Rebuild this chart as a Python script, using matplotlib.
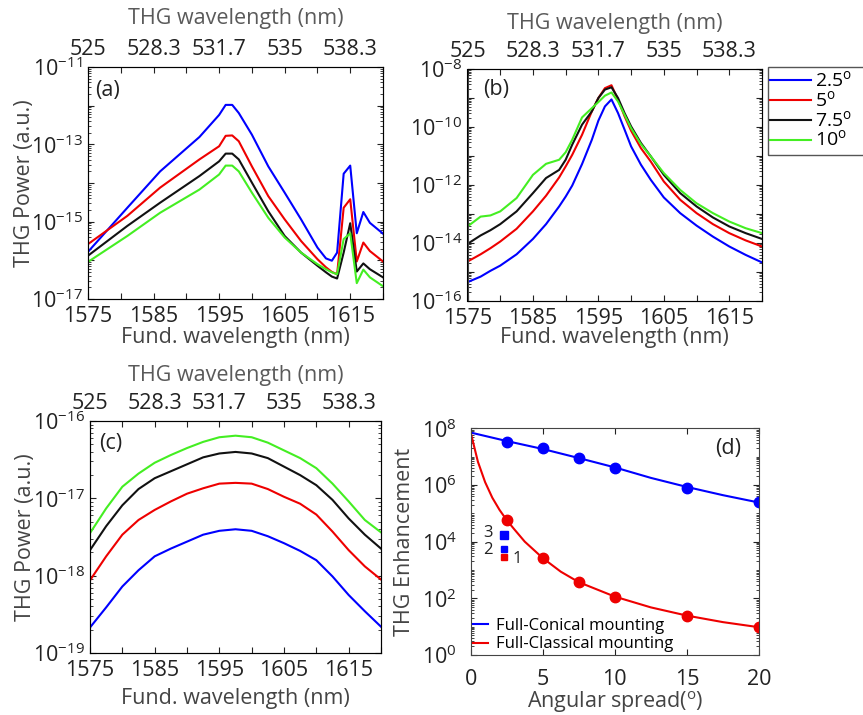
import numpy as np
import matplotlib
matplotlib.use("Agg")
from matplotlib import pyplot as plt
from matplotlib import ticker
from matplotlib.patches import Rectangle

plt.rcParams['font.family'] = ['Open Sans', 'DejaVu Sans']

tickSize = 15.5
labelSize = 15.5
legendSize = 14
labelGray = '#444444'
topGray = '#5a5a5a'
tickColor = '#222222'

# ---- data (log10 of THG power) ----
series_labels = [r'2.5$^{\mathregular{o}}$', r'5$^{\mathregular{o}}$',
                 r'7.5$^{\mathregular{o}}$', r'10$^{\mathregular{o}}$']
series_colors = ['#0000ff', '#ee0000', '#111111', '#44ee22']

# panel (a)
wl_a = [1575, 1581, 1586, 1592, 1595, 1596, 1597, 1598, 1600, 1602.5, 1605, 1607.5,
        1610, 1611.3, 1612.2, 1613, 1614, 1615, 1616, 1617, 1618, 1620]
a_25 = [-15.78, -14.64, -13.70, -12.81, -12.24, -11.98, -11.98, -12.19, -12.75, -13.57, -14.25,
        -14.94, -15.67, -15.95, -16.01, -15.80, -13.76, -13.55, -15.30, -14.75, -15.03, -15.31]
a_5 = [-15.58, -14.85, -14.12, -13.39, -13.05, -12.78, -12.77, -12.92, -13.57, -14.34, -14.94,
       -15.50, -15.97, -16.18, -16.30, -16.36, -14.64, -14.42, -16.03, -15.54, -15.76, -16.03]
a_75 = [-15.88, -15.11, -14.51, -13.82, -13.44, -13.24, -13.24, -13.39, -13.99, -14.73, -15.37,
        -15.80, -16.14, -16.31, -16.42, -16.47, -15.80, -15.04, -16.29, -16.08, -16.23, -16.44]
a_10 = [-16.04, -15.37, -14.77, -14.17, -13.78, -13.55, -13.55, -13.70, -14.25, -14.90, -15.41,
        -15.80, -16.10, -16.23, -16.31, -16.36, -15.45, -15.30, -16.59, -16.24, -16.44, -16.67]

# panel (b)
wl_b = [1575, 1577, 1578.5, 1580, 1582.5, 1585, 1587, 1589, 1590, 1591, 1592.5, 1594, 1595,
        1596, 1597, 1598, 1599, 1600, 1601.5, 1603, 1605, 1607.5, 1610, 1612.5, 1615, 1617.5, 1620]
b_25 = [-15.35, -15.16, -14.96, -14.78, -14.39, -13.86, -13.35, -12.74, -12.40, -12.02, -11.28,
        -10.44, -9.78, -9.29, -9.05, -9.52, -10.09, -10.67, -11.30, -11.82, -12.43, -12.97,
        -13.40, -13.78, -14.12, -14.41, -14.67]
b_5 = [-14.64, -14.39, -14.18, -13.95, -13.51, -12.91, -12.37, -11.74, -11.36, -10.96, -10.27,
       -9.46, -9.00, -8.66, -8.56, -9.06, -9.63, -10.13, -10.73, -11.19, -11.88, -12.51,
       -12.97, -13.35, -13.66, -13.91, -14.12]
b_75 = [-14.03, -13.74, -13.56, -13.35, -12.91, -12.28, -11.76, -11.48, -11.13, -10.61, -9.92,
        -9.46, -9.00, -8.71, -8.63, -9.00, -9.52, -9.98, -10.55, -11.01, -11.65, -12.28,
        -12.74, -13.12, -13.43, -13.66, -13.86]
b_10 = [-13.43, -13.09, -13.05, -12.91, -12.45, -11.65, -11.27, -11.13, -10.87, -10.44, -9.67,
        -9.35, -9.14, -8.92, -8.81, -9.12, -9.58, -10.04, -10.59, -11.01, -11.59, -12.17,
        -12.63, -12.97, -13.26, -13.49, -13.66]

# panel (c)
wl_c = [1575, 1577.5, 1580, 1582.5, 1585, 1587.5, 1590, 1592.5, 1595, 1597.5, 1600, 1602.5,
        1605, 1607.5, 1610, 1612.5, 1615, 1617.5, 1620]
c_25 = [-18.67, -18.41, -18.14, -17.93, -17.75, -17.65, -17.56, -17.47, -17.42, -17.40, -17.42,
        -17.49, -17.58, -17.68, -17.80, -18.01, -18.25, -18.46, -18.66]
c_5 = [-18.06, -17.75, -17.47, -17.28, -17.15, -17.04, -16.94, -16.87, -16.81, -16.80, -16.81,
       -16.88, -16.98, -17.07, -17.21, -17.43, -17.67, -17.88, -18.05]
c_75 = [-17.67, -17.36, -17.09, -16.88, -16.74, -16.65, -16.56, -16.47, -16.42, -16.40, -16.42,
        -16.48, -16.59, -16.70, -16.83, -17.02, -17.26, -17.47, -17.65]
c_10 = [-17.45, -17.13, -16.85, -16.68, -16.54, -16.44, -16.35, -16.27, -16.21, -16.19, -16.21,
        -16.28, -16.38, -16.48, -16.61, -16.81, -17.04, -17.28, -17.44]

# panel (d) (log10 of enhancement)
angles = [2.5, 5, 7.5, 10, 15, 20]
conical = [7.53, 7.29, 6.94, 6.59, 5.91, 5.39]
classical = [4.76, 3.41, 2.56, 2.06, 1.38, 0.98]
conical_fit_x = [0, 2.5, 5, 7.5, 10, 12.5, 15, 17.5, 20]
conical_fit = [7.85, 7.55, 7.27, 6.95, 6.62, 6.25, 5.93, 5.64, 5.38]
classical_fit_x = [0, 0.5, 1, 1.5, 2, 2.5, 3, 3.75, 5, 6.25, 7.5, 10, 12.5, 15, 17.5, 20]
classical_fit = [7.85, 6.82, 6.10, 5.55, 5.12, 4.76, 4.45, 4.00, 3.42, 2.94, 2.57, 2.06,
                 1.68, 1.39, 1.16, 0.98]
ref_x = 2.3
ref_vals = [4.24, 3.74, 3.47]
ref_colors = ['#0000ff', '#0000ff', '#ee0000']
ref_names = ['3', '2', '1']

fund_ticks = [1575, 1585, 1595, 1605, 1615]
thg_labels = ['525', '528.3', '531.7', '535', '538.3']


def sup10(e):
    return r'$\mathregular{10^{%d}}$' % e


def style_wavelength_axes(ax, ylo, yhi, label_step, xlab_y, toplab_y):
    ax.set_yscale('log')
    ax.set_xlim(1575, 1620)
    ax.set_ylim(10.0**ylo, 10.0**yhi)
    ax.set_xticks(np.arange(1575, 1621, 5))
    ax.set_xticklabels([str(t) if t in fund_ticks else '' for t in range(1575, 1621, 5)])
    decades = list(range(ylo, yhi + 1))
    ax.yaxis.set_major_locator(ticker.FixedLocator([10.0**d for d in decades]))
    ax.yaxis.set_major_formatter(ticker.FixedFormatter(
        [sup10(d) if (yhi - d) % label_step == 0 else '' for d in decades]))
    ax.yaxis.set_minor_locator(ticker.LogLocator(base=10, subs=np.arange(2, 10), numticks=50))
    ax.yaxis.set_minor_formatter(ticker.NullFormatter())
    ax.tick_params(which='both', direction='in', right=True, top=False,
                   labelsize=tickSize, colors=tickColor)
    ax.tick_params(which='major', length=4)
    ax.tick_params(which='minor', length=2)
    ax.tick_params(axis='x', pad=5)
    ax.tick_params(axis='y', pad=4)
    ax.set_xlabel('Fund. wavelength (nm)', fontsize=labelSize, color=labelGray, va='center')
    ax.xaxis.set_label_coords(0.5, xlab_y)
    for s in ax.spines.values():
        s.set_color('#444444')
    top = ax.twiny()
    top.set_xlim(ax.get_xlim())
    top.set_xticks(np.arange(1575, 1621, 5))
    top.set_xticklabels([thg_labels[fund_ticks.index(t)] if t in fund_ticks else ''
                         for t in range(1575, 1621, 5)])
    top.tick_params(direction='in', length=4, labelsize=tickSize, colors=tickColor, pad=5)
    top.set_xlabel('THG wavelength (nm)', fontsize=labelSize, color=topGray, va='center')
    top.xaxis.set_label_coords(0.5, toplab_y)
    return top


fig = plt.figure(figsize=(8.63, 7.15), dpi=100)
W, H = 863.0, 715.0


def add_axes_px(l, t, r, b):
    return fig.add_axes([l / W, 1 - b / H, (r - l) / W, (b - t) / H])


ax_a = add_axes_px(88, 67, 383, 299)
ax_b = add_axes_px(467.5, 69, 762, 301)
ax_c = add_axes_px(90, 421, 381, 653)
ax_d = add_axes_px(470.7, 428.3, 759, 655)

panels = [
    (ax_a, wl_a, [a_25, a_5, a_75, a_10], -17, -11, 2, '(a)', (0.024, 0.90), -0.168, 1.21),
    (ax_b, wl_b, [b_25, b_5, b_75, b_10], -16, -8, 2, '(b)', (0.053, 0.91), -0.159, 1.195),
    (ax_c, wl_c, [c_25, c_5, c_75, c_10], -19, -16, 1, '(c)', (0.031, 0.905), -0.194, 1.195),
]
line_handles = []
for ax, wl, curves, ylo, yhi, step, tag, tagpos, xly, tly in panels:
    for vals, col, lab in zip(curves, series_colors, series_labels):
        h, = ax.plot(wl, 10.0**np.array(vals), color=col, lw=1.5, label=lab)
        if ax is ax_b:
            line_handles.append(h)
    style_wavelength_axes(ax, ylo, yhi, step, xly, tly)
    ax.text(tagpos[0], tagpos[1], tag, transform=ax.transAxes, fontsize=15.5,
            va='center', ha='left', color=tickColor)

ax_a.set_ylabel('THG Power (a.u.)', fontsize=labelSize, color=labelGray, va='center')
ax_a.yaxis.set_label_coords(-0.214, 0.5)
ax_c.set_ylabel('THG Power (a.u.)', fontsize=labelSize, color=labelGray, va='center')
ax_c.yaxis.set_label_coords(-0.223, 0.5)

# legend for (a)-(c), boxed and running off the right edge
fig.patches.append(Rectangle((768 / W, 1 - 155 / H), 0.2, 88 / H, transform=fig.transFigure,
                             fill=False, edgecolor='#555555', lw=1))
fig.legend(handles=line_handles, loc='upper left', bbox_to_anchor=(770 / W, 1 - 70 / H),
           frameon=False, fontsize=legendSize, handlelength=2.1, handletextpad=0.2,
           labelspacing=-0.04, borderpad=0.0, borderaxespad=0)

# panel (d)
ax_d.plot(conical_fit_x, 10.0**np.array(conical_fit), color='#0000ff', lw=1.5,
          label='Full-Conical mounting')
ax_d.plot(classical_fit_x, 10.0**np.array(classical_fit), color='#ee0000', lw=1.5,
          label='Full-Classical mounting')
ax_d.plot(angles, 10.0**np.array(conical), 'o', color='#0000ff', ms=7.5)
ax_d.plot(angles, 10.0**np.array(classical), 'o', color='#ee0000', ms=7.5)
for v, col, ms in zip(ref_vals, ref_colors, [6, 5, 5]):
    ax_d.plot([ref_x], [10.0**v], 's', color=col, ms=ms)
ax_d.text(1.2, 10**4.30, ref_names[0], fontsize=12, ha='center', va='center', color=tickColor)
ax_d.text(1.2, 10**3.70, ref_names[1], fontsize=12, ha='center', va='center', color=tickColor)
ax_d.text(3.2, 10**3.38, ref_names[2], fontsize=12, ha='center', va='center', color=tickColor)
ax_d.set_yscale('log')
ax_d.set_xlim(0, 20)
ax_d.set_ylim(1, 1e8)
ax_d.set_xticks([0, 5, 10, 15, 20])
ax_d.yaxis.set_major_locator(ticker.FixedLocator([10.0**d for d in range(0, 9, 2)]))
ax_d.yaxis.set_major_formatter(ticker.FixedFormatter([sup10(d) for d in range(0, 9, 2)]))
ax_d.yaxis.set_minor_locator(ticker.LogLocator(base=10, subs=np.arange(1, 10), numticks=50))
ax_d.yaxis.set_minor_formatter(ticker.NullFormatter())
ax_d.tick_params(which='both', direction='in', right=True, top=True,
                 labelsize=tickSize, colors=tickColor)
ax_d.tick_params(which='major', length=4)
ax_d.tick_params(which='minor', length=2)
ax_d.tick_params(axis='x', pad=10)
ax_d.tick_params(axis='y', pad=10)
for s in ax_d.spines.values():
    s.set_color('#444444')
ax_d.set_xlabel(r'Angular spread($^{\mathregular{o}}$)', fontsize=labelSize, color=labelGray,
                va='center')
ax_d.xaxis.set_label_coords(0.5, -0.207)
ax_d.set_ylabel('THG Enhancement', fontsize=labelSize, color=labelGray, va='center')
ax_d.yaxis.set_label_coords(-0.228, 0.5)
ax_d.text(0.847, 0.913, '(d)', transform=ax_d.transAxes, fontsize=15.5, va='center',
          ha='left', color=tickColor)
ax_d.legend(loc='lower left', frameon=False, fontsize=12, handlelength=0.9,
            handletextpad=0.45, labelspacing=0.13, borderaxespad=0.05, borderpad=0.1)

fig.savefig('out.png', dpi=100)
